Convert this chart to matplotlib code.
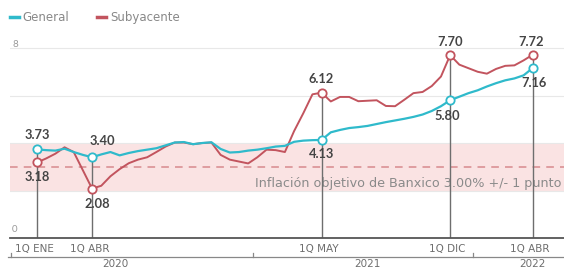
import matplotlib
matplotlib.use('Agg')
import matplotlib.pyplot as plt
from matplotlib.lines import Line2D

plt.rcParams['font.family'] = ['Lato', 'DejaVu Sans']

# quincenas from 1Q ENE 2020 to 1Q ABR 2022
general = [3.73, 3.70, 3.68, 3.76, 3.62, 3.50, 3.40, 3.52, 3.62, 3.48,
           3.58, 3.66, 3.72, 3.78, 3.90, 4.02, 4.04, 3.95, 4.00, 4.03,
           3.75, 3.60, 3.62, 3.68, 3.72, 3.78, 3.85, 3.88, 4.05, 4.10,
           4.12, 4.13, 4.45, 4.55, 4.63, 4.67, 4.72, 4.80, 4.88, 4.95,
           5.02, 5.10, 5.20, 5.35, 5.55, 5.80, 5.95, 6.10, 6.22, 6.38,
           6.52, 6.64, 6.72, 6.85, 7.16]
subyacente = [3.18, 3.35, 3.55, 3.82, 3.62, 2.85, 2.08, 2.20, 2.60, 2.90,
              3.15, 3.30, 3.40, 3.62, 3.85, 4.02, 4.02, 3.95, 4.00, 4.02,
              3.50, 3.30, 3.22, 3.14, 3.40, 3.72, 3.70, 3.62, 4.50, 5.25,
              6.05, 6.12, 5.75, 5.94, 5.94, 5.76, 5.78, 5.80, 5.56, 5.55,
              5.82, 6.10, 6.15, 6.40, 6.80, 7.70, 7.30, 7.15, 7.00, 6.92,
              7.12, 7.25, 7.27, 7.48, 7.72]

marked = [0, 6, 31, 45, 54]
marked_labels = ['1Q ENE', '1Q ABR', '1Q MAY', '1Q DIC', '1Q ABR']
years = ['2020', '2021', '2022']
year_pos = [8.5, 36, 54]
year_breaks = [23.5, 47.5]

cyan = '#2fbacb'
red = '#c2545e'
gray = '#6e6e6e'
wide = ['DejaVu Sans']

fig = plt.figure(figsize=(5.64, 2.7), dpi=100)
ax = fig.add_axes([10 / 564, 32 / 270, 554 / 564, 0.730])
x = list(range(len(general)))

ax.axhspan(2, 4, color='#fae3e3', lw=0, zorder=0)
for g in [2, 4, 6, 8]:
    ax.axhline(g, color='#e8e8e8', lw=0.8, zorder=0.5)
ax.axhline(3, color='#d88a8e', lw=1.1, ls=(0, (5, 4)), zorder=1)
ax.text(57.1, 2.3, 'Inflación objetivo de Banxico 3.00% +/- 1 punto', ha='right', va='center',
        fontsize=9.2, color='#8a8a8a', family=wide, zorder=2)

for i in marked:
    ax.plot([i, i], [0, max(general[i], subyacente[i])], color=gray, lw=1, zorder=2)

ax.plot(x, subyacente, color=red, lw=1.4, zorder=3)
ax.plot(x, general, color=cyan, lw=1.6, zorder=4)
ax.plot(marked, [subyacente[i] for i in marked], 'o', ms=6, mfc='white', mec=red, mew=1.3, zorder=5)
ax.plot(marked, [general[i] for i in marked], 'o', ms=6, mfc='white', mec=cyan, mew=1.3, zorder=6)

# value labels
offs = {0: ((0, 14), (0, -15)), 6: ((10, 16), (5, -15)), 31: ((0, 14), (0, -14)),
        45: ((0, 13), (-3, -16)), 54: ((-2, 13), (1, -15))}
for i in marked:
    hi_v, lo_v = (subyacente[i], general[i]) if subyacente[i] > general[i] else (general[i], subyacente[i])
    (hx, hy), (lx, ly) = offs[i]
    ax.annotate(f'{hi_v:.2f}', (i, hi_v), xytext=(hx, hy), textcoords='offset pixels',
                ha='center', va='center', fontsize=9.3, fontweight='bold', color='#444444', zorder=7)
    ax.annotate(f'{lo_v:.2f}', (i, lo_v), xytext=(lx, ly), textcoords='offset pixels',
                ha='center', va='center', fontsize=9.3, fontweight='bold', color='#444444', zorder=7)

ax.set_xlim(-2.94, 57.4)
ax.set_ylim(0, 8.3)
ax.axis('off')

ax.axhline(0, color='#555555', lw=1.3, zorder=3, clip_on=False)
ax.text(-2.7, 8.15, '8', fontsize=7, color='#999999', va='center')
ax.text(-2.7, 0.35, '0', fontsize=7, color='#999999', va='center')

# bottom axis labels
for i, lab in zip(marked, marked_labels):
    ax.text(i - 0.3, -0.47, lab, ha='center', va='center', fontsize=7.5, color=gray,
            family=wide, clip_on=False)
ax.plot([-3.2, 57.4], [-0.8, -0.8], color='#888888', lw=0.9, clip_on=False)
for b in year_breaks + [-2.8]:
    ax.plot([b, b], [-0.8, -0.62], color='#888888', lw=0.9, clip_on=False)
for p, y in zip(year_pos, years):
    ax.text(p, -1.1, y, ha='center', va='center', fontsize=7.5, color=gray,
            family=wide, clip_on=False)

# legend
fig.add_artist(Line2D([10 / 564, 19 / 564], [0.937, 0.937], color=cyan, lw=2.5))
fig.text(22 / 564, 0.937, 'General', fontsize=8.5, color='#888888', va='center', family=wide)
fig.add_artist(Line2D([97 / 564, 106 / 564], [0.937, 0.937], color=red, lw=2.5))
fig.text(110 / 564, 0.937, 'Subyacente', fontsize=8.5, color='#888888', va='center', family=wide)

fig.savefig('out.png', dpi=100)
